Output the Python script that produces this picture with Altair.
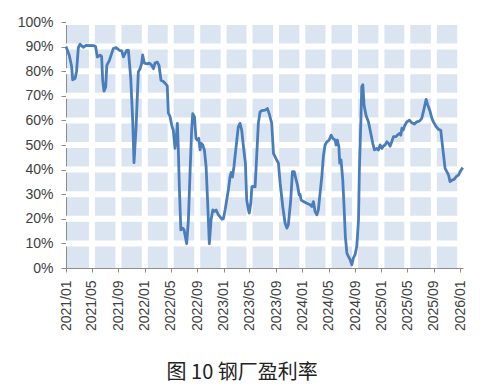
import altair as alt
import pandas as pd

dates = [
    "2021-01-01", "2021-01-16", "2021-01-27", "2021-02-01", "2021-02-12", "2021-02-19", "2021-02-27",
    "2021-03-07", "2021-03-22", "2021-04-04", "2021-05-08", "2021-05-18", "2021-05-26", "2021-06-08",
    "2021-06-15", "2021-06-20", "2021-06-26", "2021-07-04", "2021-07-09", "2021-07-21", "2021-08-08",
    "2021-08-21", "2021-09-05", "2021-09-16", "2021-09-24", "2021-10-09", "2021-10-17", "2021-10-28",
    "2021-11-06", "2021-11-12", "2021-11-21", "2021-12-02", "2021-12-10", "2021-12-17", "2021-12-22",
    "2021-12-30", "2022-01-13", "2022-01-22", "2022-02-02", "2022-02-10", "2022-02-17", "2022-02-28",
    "2022-03-08", "2022-03-17", "2022-03-28", "2022-04-06", "2022-04-15", "2022-04-20", "2022-04-28",
    "2022-05-06", "2022-05-13", "2022-05-21", "2022-05-26", "2022-06-01", "2022-06-05", "2022-06-10",
    "2022-06-17", "2022-06-26", "2022-07-02", "2022-07-14", "2022-07-22", "2022-07-30", "2022-08-06",
    "2022-08-11", "2022-08-19", "2022-08-26", "2022-09-01", "2022-09-08", "2022-09-14", "2022-09-19",
    "2022-09-26", "2022-10-04", "2022-10-12", "2022-10-20", "2022-10-27", "2022-11-04", "2022-11-12",
    "2022-11-19", "2022-11-27", "2022-12-08", "2022-12-24", "2022-12-31", "2023-01-08", "2023-01-23",
    "2023-01-31", "2023-02-05", "2023-02-11", "2023-02-18", "2023-02-28", "2023-03-10", "2023-03-18",
    "2023-03-26", "2023-04-03", "2023-04-12", "2023-04-18", "2023-04-26", "2023-04-30", "2023-05-07",
    "2023-05-12", "2023-05-19", "2023-05-27", "2023-06-04", "2023-06-11", "2023-06-19", "2023-06-27",
    "2023-07-12", "2023-07-23", "2023-08-01", "2023-08-12", "2023-08-20", "2023-08-28", "2023-09-04",
    "2023-09-12", "2023-09-20", "2023-10-02", "2023-10-13", "2023-10-21", "2023-10-28", "2023-11-08",
    "2023-11-16", "2023-11-24", "2023-12-01", "2023-12-09", "2023-12-17", "2023-12-21", "2023-12-26",
    "2024-01-06", "2024-01-21", "2024-02-06", "2024-02-14", "2024-02-21", "2024-02-29", "2024-03-08",
    "2024-03-15", "2024-03-23", "2024-03-31", "2024-04-07", "2024-04-15", "2024-04-23", "2024-05-04",
    "2024-05-13", "2024-05-21", "2024-06-01", "2024-06-05", "2024-06-11", "2024-06-18", "2024-06-22",
    "2024-06-28", "2024-07-06", "2024-07-12", "2024-07-18", "2024-07-25", "2024-08-01", "2024-08-09",
    "2024-08-17", "2024-08-24", "2024-09-01", "2024-09-09", "2024-09-17", "2024-09-21", "2024-09-28",
    "2024-10-02", "2024-10-07", "2024-10-13", "2024-10-22", "2024-11-02", "2024-11-13", "2024-11-22",
    "2024-11-30", "2024-12-11", "2024-12-18", "2024-12-26", "2025-01-03", "2025-01-10", "2025-01-18",
    "2025-01-26", "2025-02-03", "2025-02-10", "2025-02-18", "2025-02-26", "2025-03-10", "2025-03-16",
    "2025-03-26", "2025-04-01", "2025-04-06", "2025-04-12", "2025-04-18", "2025-04-29", "2025-05-11",
    "2025-05-22", "2025-06-02", "2025-06-14", "2025-06-26", "2025-07-07", "2025-07-18", "2025-07-27",
    "2025-08-04", "2025-08-15", "2025-08-23", "2025-08-30", "2025-09-12", "2025-09-22", "2025-10-03",
    "2025-10-08", "2025-10-15", "2025-10-23", "2025-10-31", "2025-11-08", "2025-11-15", "2025-11-26",
    "2025-12-04", "2025-12-13", "2025-12-24", "2026-01-01", "2026-01-13",
]

rates = [
    90.0, 86.5, 82.0, 76.5, 77.0, 80.0, 89.5,
    91.0, 89.7, 90.5, 90.4, 90.0, 85.8, 86.5,
    86.0, 76.3, 71.9, 73.6, 82.4, 84.4, 89.2,
    89.6, 88.5, 88.3, 85.8, 88.5, 88.5, 77.0,
    60.0, 42.8, 56.0, 79.7, 81.0, 83.0, 86.6,
    83.3, 83.0, 83.3, 82.4, 81.0, 83.3, 83.7,
    82.4, 76.3, 75.8, 75.0, 74.0, 63.0, 61.5,
    58.0, 56.0, 48.6, 52.0, 58.8, 49.3, 33.0,
    15.5, 16.2, 15.5, 9.9, 19.6, 39.8, 56.0,
    62.7, 61.4, 52.7, 52.0, 52.7, 48.0, 50.7,
    50.0, 48.0, 41.2, 25.0, 9.9, 19.6, 23.6,
    23.0, 23.6, 21.6, 19.9, 20.0, 23.6, 31.7,
    37.1, 38.8, 37.0, 41.2, 49.3, 57.4, 58.8,
    56.0, 49.3, 42.6, 27.7, 23.6, 22.3, 26.3,
    33.0, 33.2, 33.0, 46.6, 58.8, 63.5, 64.0,
    64.2, 64.8, 62.5, 58.8, 46.6, 45.2, 43.9,
    42.6, 34.5, 25.0, 18.2, 16.2, 17.6, 27.7,
    39.2, 39.2, 36.5, 33.8, 29.7, 30.0, 27.7,
    27.0, 26.3, 25.7, 25.0, 27.0, 22.9, 21.6,
    23.6, 30.4, 37.1, 45.2, 50.0, 51.3, 52.0,
    54.0, 52.7, 52.0, 50.0, 52.0, 49.3, 42.6,
    44.0, 35.8, 25.0, 12.8, 6.1, 4.7, 3.4,
    1.3, 4.0, 5.4, 8.8, 19.6, 39.8, 60.1,
    73.6, 74.5, 66.0, 62.0, 59.4, 54.7, 50.7,
    48.0, 48.6, 48.0, 50.0, 48.6, 49.5, 50.0,
    51.3, 50.7, 49.5, 51.3, 53.4, 53.4, 54.0,
    54.7, 54.0, 56.8, 56.1, 57.7, 59.4, 60.1,
    59.0, 58.5, 59.4, 59.7, 60.8, 64.9, 68.5,
    66.2, 63.5, 60.8, 59.4, 57.4, 56.4, 56.0,
    52.0, 46.6, 40.5, 39.2, 37.8, 35.1, 35.8,
    36.0, 37.1, 37.8, 39.2, 40.8,
]

x_ticks = [
    "2021-01-01", "2021-05-01", "2021-09-01", "2022-01-01", "2022-05-01", "2022-09-01",
    "2023-01-01", "2023-05-01", "2023-09-01", "2024-01-01", "2024-05-01", "2024-09-01",
    "2025-01-01", "2025-05-01", "2025-09-01", "2026-01-01",
]
y_ticks = [0.0, 0.1, 0.2, 0.3, 0.4, 0.5, 0.6, 0.7, 0.8, 0.9, 1.0]

title_text = "图 10 钢厂盈利率"

df = pd.DataFrame({"date": dates, "rate": [r / 100 for r in rates]})
vgrid = pd.DataFrame({"date": x_ticks[1:]})
hgrid = pd.DataFrame({"rate": y_ticks[1:]})


def dt(s):
    y, m, d = (int(p) for p in s.split("-"))
    return alt.DateTime(year=y, month=m, date=d, utc=True)


x_scale = alt.Scale(type="utc", domain=[dt("2021-01-01"), dt("2026-01-14")])
y_scale = alt.Scale(domain=[0, 1])

x_axis = alt.Axis(
    values=[dt(s) for s in x_ticks],
    labelExpr="utcFormat(datum.value, '%Y/%m')",
    labelAngle=270,
    labelAlign="right",
    labelBaseline="middle",
    labelFont="Liberation Sans",
    labelFontSize=14,
    labelColor="#404040",
    labelPadding=8,
    tickSize=4,
    tickColor="#8c8c8c",
    domainColor="#8c8c8c",
    grid=False,
    labelOverlap=False,
)
y_axis = alt.Axis(
    values=y_ticks,
    format=".0%",
    labelFont="Liberation Sans",
    labelFontSize=14,
    labelColor="#404040",
    labelPadding=8,
    tickSize=5,
    tickColor="#8c8c8c",
    domainColor="#8c8c8c",
    grid=False,
)

X = alt.X("date:T", scale=x_scale, title=None, axis=x_axis)
Y = alt.Y("rate:Q", scale=y_scale, title=None, axis=y_axis)

vrules = alt.Chart(vgrid).mark_rule(color="white", strokeWidth=6).encode(x=X)
hrules = alt.Chart(hgrid).mark_rule(color="white", strokeWidth=6).encode(y=Y)
line = alt.Chart(df).mark_line(color="#4a7dbc", strokeWidth=2.8, strokeJoin="round").encode(x=X, y=Y)

chart = (
    alt.layer(vrules, hrules, line)
    .properties(
        width=397,
        height=246,
        background="white",
        autosize=alt.AutoSizeParams(type="none"),
        padding={"left": 58, "top": 14, "right": 13, "bottom": 120},
        title=alt.TitleParams(
            text=title_text,
            orient="bottom",
            anchor="middle",
            frame="bounds",
            offset=32,
            font="Noto Sans CJK SC",
            fontSize=20,
            fontWeight="normal",
            color="#222222",
        ),
    )
    .configure_view(fill="#dbe4f1", strokeWidth=0)
)

chart.save("out.html", embed_options={"renderer": "svg", "actions": False})
